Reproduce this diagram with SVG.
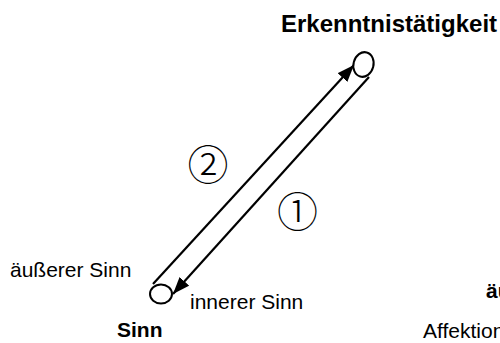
<svg xmlns="http://www.w3.org/2000/svg" width="500" height="343" viewBox="0 0 500 343">
<style>
.t{font-family:"Liberation Sans",Arial,sans-serif;font-size:21px;fill:#000}
.b{font-weight:bold}
.c{font-family:"Noto Sans CJK JP","DejaVu Sans",sans-serif;font-size:41px;font-weight:300;fill:#000;text-anchor:middle}
.ln{stroke:#000;stroke-width:2.2;fill:none}
.el{stroke:#000;stroke-width:2;fill:#fff}
</style>
<defs>
<marker id="ah" markerUnits="userSpaceOnUse" markerWidth="18" markerHeight="14" refX="17" refY="6.5" orient="auto">
<path d="M0,0 L17,6.5 L0,13 Z" fill="#000"/>
</marker>
</defs>
<rect width="500" height="343" fill="#fff"/>
<g id="connectors">
<line class="ln" x1="153" y1="284" x2="354" y2="65" marker-end="url(#ah)"/>
<line class="ln" x1="369" y1="77" x2="173" y2="294" marker-end="url(#ah)"/>
</g>
<g id="node-erkenntnis">
<ellipse class="el" cx="363.5" cy="64.5" rx="10" ry="12.5" transform="rotate(15 363.5 64.5)"/>
<text class="t b" x="281" y="32" style="font-size:24px">Erkenntnistätigkeit</text>
</g>
<g id="node-sinn">
<ellipse class="el" cx="161" cy="294" rx="11" ry="9.5"/>
<text class="t b" x="117" y="337">Sinn</text>
<text class="t" x="10" y="277">äußerer Sinn</text>
<text class="t" x="190" y="309">innerer Sinn</text>
</g>
<g id="labels">
<text class="c" x="208" y="179.5">②</text>
<text class="c" x="297.5" y="227">①</text>
</g>
<g id="node-right">
<text class="t b" x="486" y="298">äu</text>
<text class="t" x="423" y="338">Affektion</text>
</g>
</svg>
